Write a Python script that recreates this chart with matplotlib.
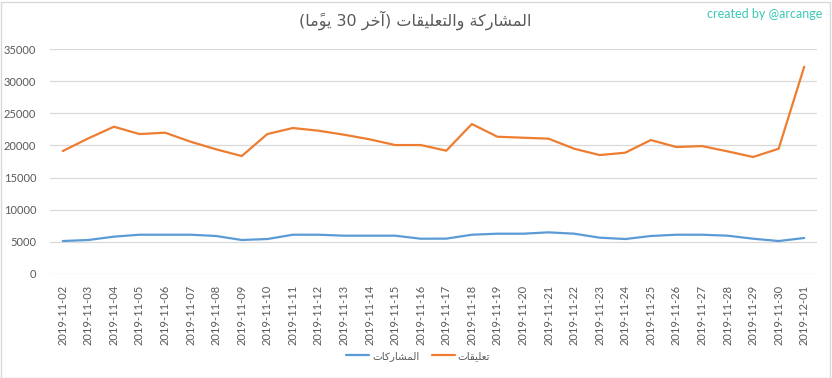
import matplotlib
matplotlib.use('Agg')
import matplotlib.pyplot as plt
from matplotlib.patches import Rectangle

# ==================== data ====================
dates = ['2019-11-02', '2019-11-03', '2019-11-04', '2019-11-05', '2019-11-06',
         '2019-11-07', '2019-11-08', '2019-11-09', '2019-11-10', '2019-11-11',
         '2019-11-12', '2019-11-13', '2019-11-14', '2019-11-15', '2019-11-16',
         '2019-11-17', '2019-11-18', '2019-11-19', '2019-11-20', '2019-11-21',
         '2019-11-22', '2019-11-23', '2019-11-24', '2019-11-25', '2019-11-26',
         '2019-11-27', '2019-11-28', '2019-11-29', '2019-11-30', '2019-12-01']
posts = [5130, 5290, 5810, 6110, 6110, 6110, 5910, 5290, 5440, 6110,
         6110, 5960, 5960, 5960, 5490, 5500, 6110, 6270, 6270, 6480,
         6270, 5650, 5440, 5910, 6110, 6110, 5960, 5490, 5130, 5600]
comments = [19130, 21100, 22910, 21770, 21980, 20580, 19390, 18350, 21770, 22710,
            22290, 21670, 20950, 20060, 20060, 19180, 23330, 21350, 21200, 21050,
            19490, 18500, 18870, 20840, 19750, 19900, 19080, 18200, 19490, 32240]
yticks = [0, 5000, 10000, 15000, 20000, 25000, 30000, 35000]

title_txt = 'المشاركة والتعليقات (آخر 30 يومًا)'
posts_lbl = 'المشاركات'
comments_lbl = 'تعليقات'
credit_txt = 'created by @arcange'


# ==================== arabic shaping (matplotlib 3.10 has no shaper) ====================
# isolated, final, initial, medial
FORMS = {
    '\u0627': ('\uFE8D', '\uFE8E', None, None),
    '\u0622': ('\uFE81', '\uFE82', None, None),
    '\u0631': ('\uFEAD', '\uFEAE', None, None),
    '\u0629': ('\uFE93', '\uFE94', None, None),
    '\u0648': ('\uFEED', '\uFEEE', None, None),
    '\u0644': ('\uFEDD', '\uFEDE', '\uFEDF', '\uFEE0'),
    '\u0645': ('\uFEE1', '\uFEE2', '\uFEE3', '\uFEE4'),
    '\u0634': ('\uFEB5', '\uFEB6', '\uFEB7', '\uFEB8'),
    '\u0643': ('\uFED9', '\uFEDA', '\uFEDB', '\uFEDC'),
    '\u062A': ('\uFE95', '\uFE96', '\uFE97', '\uFE98'),
    '\u0639': ('\uFEC9', '\uFECA', '\uFECB', '\uFECC'),
    '\u064A': ('\uFEF1', '\uFEF2', '\uFEF3', '\uFEF4'),
    '\u0642': ('\uFED5', '\uFED6', '\uFED7', '\uFED8'),
    '\u062E': ('\uFEA5', '\uFEA6', '\uFEA7', '\uFEA8'),
}


def is_mark(c):
    return '\u064B' <= c <= '\u065F'


def rtl(text):
    chars = list(text)

    def neighbour(i, step):
        j = i + step
        while 0 <= j < len(chars) and is_mark(chars[j]):
            j += step
        return chars[j] if 0 <= j < len(chars) else None

    shaped = []
    for i, c in enumerate(chars):
        if c not in FORMS:
            shaped.append(c)
            continue
        iso, fin, ini, med = FORMS[c]
        p, n = neighbour(i, -1), neighbour(i, 1)
        jp = p in FORMS and FORMS[p][2] is not None
        jn = ini is not None and n in FORMS
        if jp and jn:
            shaped.append(med)
        elif jp:
            shaped.append(fin)
        elif jn:
            shaped.append(ini)
        else:
            shaped.append(iso)

    # clusters (base + marks), digits grouped, then reversed
    tokens = []
    for c in shaped:
        if is_mark(c) and tokens:
            tokens[-1] += c
        elif c.isdigit() and tokens and tokens[-1].isdigit():
            tokens[-1] += c
        else:
            tokens.append(c)
    mirror = {'(': ')', ')': '('}
    return ''.join(mirror.get(t, t) for t in reversed(tokens))


# ==================== plot ====================
GREY = '#595959'
AR = ['DejaVu Sans']
NUM = ['Lato', 'DejaVu Sans']

fig = plt.figure(figsize=(8.32, 3.78), dpi=100)
ax = fig.add_axes([50 / 832, 1 - 274 / 378, 767 / 832, 225 / 378])

x = list(range(len(dates)))
ax.plot(x, posts, color='#5B9BD5', lw=1.6, label=rtl(posts_lbl), solid_capstyle='round')
ax.plot(x, comments, color='#ED7D31', lw=1.6, label=rtl(comments_lbl), solid_capstyle='round')

ax.set_xlim(-0.5, len(dates) - 0.5)
ax.set_ylim(0, 35000)
ax.set_yticks(yticks)
ax.set_yticklabels([str(v) for v in yticks], family=NUM, fontsize=8, color=GREY)
ax.set_xticks(x)
ax.set_xticklabels(dates, rotation=90, family=NUM, fontsize=8, color=GREY)
ax.tick_params(length=0, pad=8)
ax.tick_params(axis='y', pad=10)
ax.grid(axis='y', color='#d9d9d9', lw=0.9)
ax.set_axisbelow(True)
for s in ax.spines.values():
    s.set_visible(False)

fig.text(415 / 832, 1 - 20 / 378, rtl(title_txt), ha='center', va='center',
         family=AR, fontsize=11.5, color=GREY)
fig.text(822 / 832, 1 - 14 / 378, credit_txt, ha='right', va='center',
         family=NUM, fontsize=9, color='#3cc8b4')

leg = fig.legend(loc='center', bbox_to_anchor=(418 / 832, 1 - 356 / 378), ncol=2,
                 frameon=False, prop={'family': AR, 'size': 7.5},
                 handlelength=2.2, handletextpad=0.3, columnspacing=1.2)
for t in leg.get_texts():
    t.set_color(GREY)

fig.patches.append(Rectangle((0.5 / 832, 0.5 / 378), 829 / 832, 376 / 378,
                             transform=fig.transFigure, fill=False,
                             edgecolor='#d9d9d9', lw=1))

fig.savefig('out.png', dpi=100)
